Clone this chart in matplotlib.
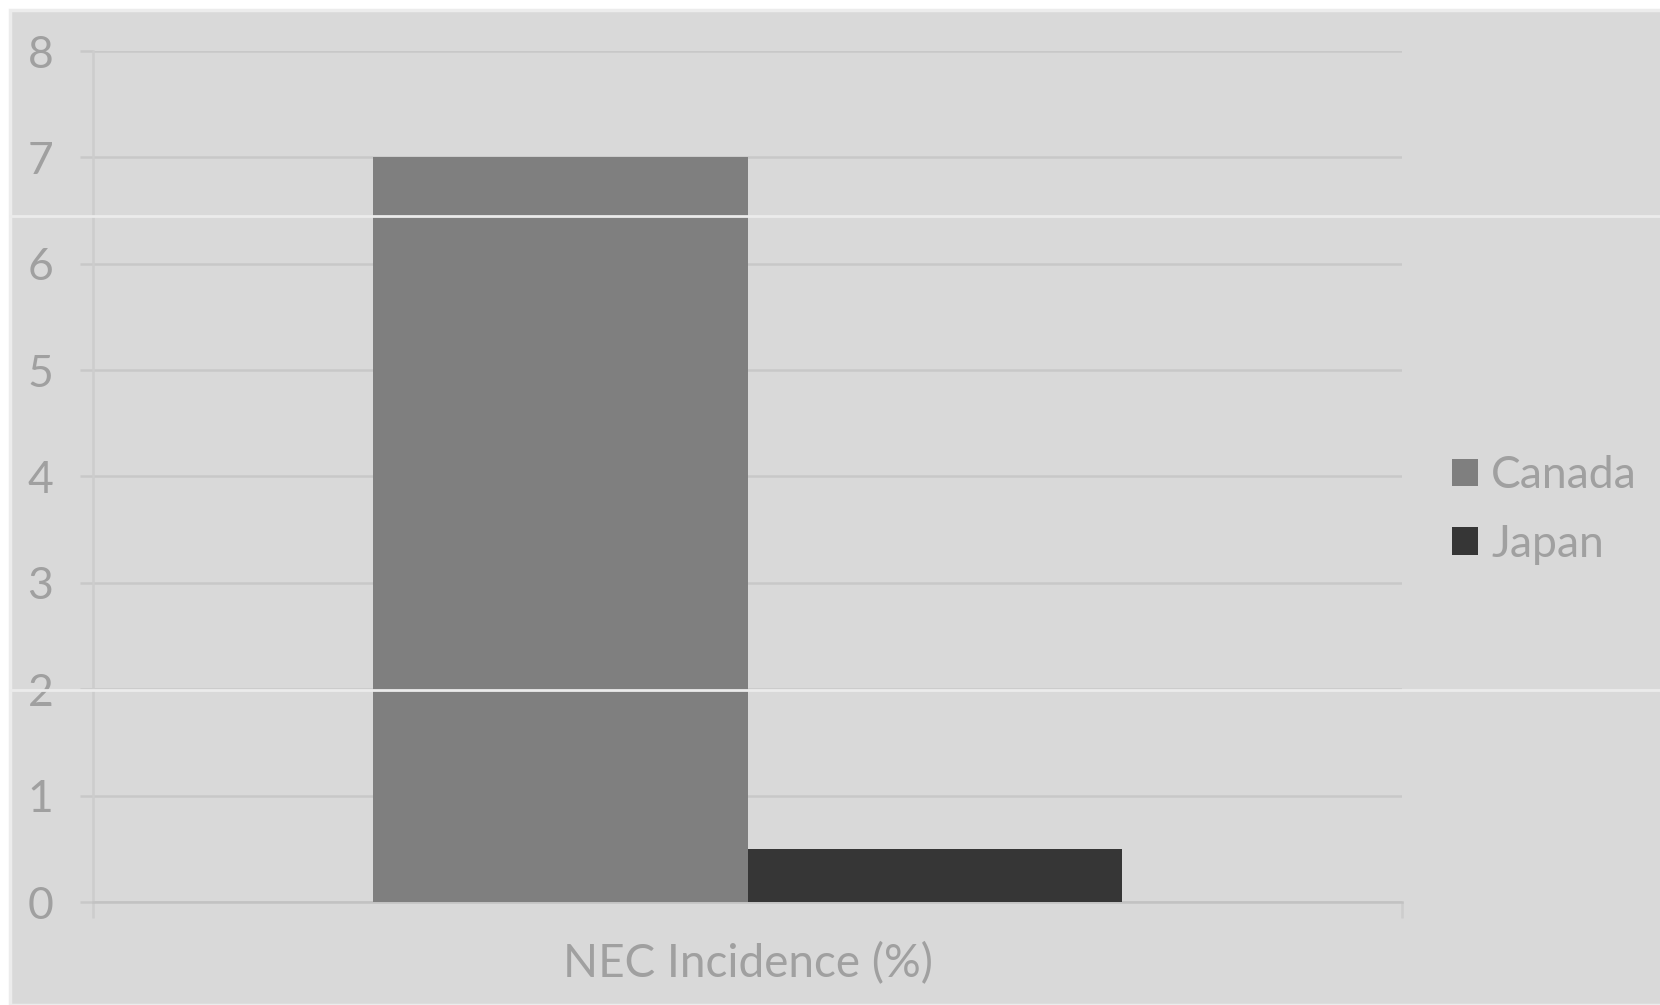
import matplotlib.pyplot as plt
from matplotlib.patches import Rectangle, Patch
from matplotlib.lines import Line2D

plt.rcParams["font.family"] = ["Lato", "DejaVu Sans"]

# data
category = "NEC Incidence (%)"
countries = ["Canada", "Japan"]
values = [7.0, 0.5]
colors = ["#7f7f7f", "#363636"]
yticks = [0, 1, 2, 3, 4, 5, 6, 7, 8]

W, H = 1660, 1005
fig = plt.figure(figsize=(W / 100, H / 100), dpi=100, facecolor="white")

# grey chart background with thin light border, like the scanned original
fig.add_artist(Rectangle((10 / W, 0), 1, 1 - 10 / H, transform=fig.transFigure,
                         facecolor="#d9d9d9", edgecolor="#ececec", lw=2.5, zorder=0))

ax = fig.add_axes([93 / W, 1 - 902 / H, (1402 - 93) / W, (902 - 51) / H])
ax.set_facecolor("none")
ax.set_xlim(-0.5, 0.5)
ax.set_ylim(0, 8)

bw = 0.286
offsets = [-bw / 2, bw / 2]
for off, v, c, name in zip(offsets, values, colors, countries):
    ax.bar(off, v, width=bw, color=c, label=name, zorder=3)

grid_c = "#c8c8c8"
ax.set_axisbelow(True)
ax.yaxis.grid(True, color=grid_c, lw=1.8)
for s in ["top", "right"]:
    ax.spines[s].set_visible(False)
ax.spines["left"].set_color("#cdcdcd")
ax.spines["left"].set_linewidth(1.8)
ax.spines["bottom"].set_color("#c2c2c2")
ax.spines["bottom"].set_linewidth(1.8)

ax.set_yticks(yticks)
ax.tick_params(axis="y", length=9.5, width=1.8, color=grid_c, pad=19,
               labelsize=32, labelcolor="#a0a0a0")
ax.set_xticks([-0.5, 0.5], labels=["", ""])
ax.tick_params(axis="x", which="major", length=11.5, width=1.8, color="#cdcdcd")
ax.set_xticks([0], labels=[category], minor=True)
ax.tick_params(axis="x", which="minor", length=0, pad=29,
               labelsize=33, labelcolor="#a0a0a0")

handles = [Patch(facecolor=c, label=n) for c, n in zip(colors, countries)]
fig.legend(handles=handles, loc="center left", bbox_to_anchor=(1412 / W, 1 - 510 / H),
           frameon=False, fontsize=32, labelcolor="#a0a0a0",
           handlelength=0.58, handleheight=0.58, handletextpad=0.3, labelspacing=0.62)

# faint light scan lines across the picture
for yy in [216, 690]:
    fig.add_artist(Line2D([10 / W, 1], [1 - yy / H] * 2, transform=fig.transFigure,
                          color="#ebebeb", lw=2, zorder=10))

fig.savefig("out.png", dpi=100, facecolor=fig.get_facecolor())
